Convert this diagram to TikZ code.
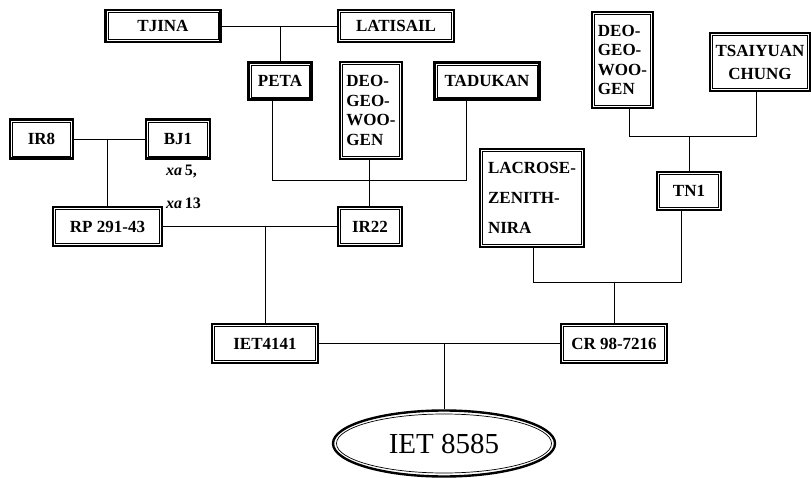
\documentclass[tikz,border=0pt]{standalone}
\usepackage{fontspec}
\setmainfont{Liberation Serif}
\usetikzlibrary{shapes.geometric}
\tikzset{
  box/.style={draw, line width=2.4pt, inner sep=0pt, align=center,
    font=\bfseries\fontsize{17}{19.5}\selectfont,
    path picture={\draw[line width=0.7pt]
      ([shift={(2.6pt,2.6pt)}]path picture bounding box.south west) rectangle
      ([shift={(-2.6pt,-2.6pt)}]path picture bounding box.north east);}},
  conn/.style={line width=0.9pt},
  lbl/.style={anchor=west, inner sep=0pt, font=\bfseries\fontsize{16}{18}\selectfont}
}
\begin{document}
\begin{tikzpicture}[x=1pt,y=-1pt]
\useasboundingbox (0,0) rectangle (811,478);
% nodes
\node[box, minimum width=115pt, minimum height=32pt] (tjina) at (163,26) {TJINA};
\node[box, minimum width=116pt, minimum height=32pt] (lat) at (396,26) {LATISAIL};
\node[box, minimum width=63pt, minimum height=37pt] (peta) at (280,81) {PETA};
\node[box, minimum width=62pt, minimum height=97pt, align=left] (deo1) at (371,110.5) {DEO-\\GEO-\\WOO-\\GEN};
\node[box, minimum width=105pt, minimum height=37pt] (tad) at (487,81) {TADUKAN};
\node[box, minimum width=63pt, minimum height=39pt] (ir8) at (41.5,139) {IR8};
\node[box, minimum width=64pt, minimum height=39pt] (bj1) at (178,139) {BJ1};
\node[lbl] (xa5) at (166,172) {\textit{xa}\,5,};
\node[lbl] (xa13) at (166,203) {\textit{xa}\,13};
\node[box, minimum width=109pt, minimum height=39pt] (rp) at (107.5,226.5) {RP 291-43};
\node[box, minimum width=64pt, minimum height=39pt] (ir22) at (370,226.5) {IR22};
\node[box, minimum width=106pt, minimum height=39pt] (iet) at (265,343.5) {IET4141};
\node[box, minimum width=106pt, minimum height=39pt] (cr) at (614,343.5) {CR 98-7216};
\node[box, minimum width=104pt, minimum height=98pt, align=left,
  font=\bfseries\fontsize{17}{30}\selectfont] (lac) at (532,198) {LACROSE-\\ZENITH-\\NIRA};
\node[box, minimum width=64pt, minimum height=38pt] (tn1) at (689,191) {TN1};
\node[box, minimum width=61pt, minimum height=96pt, align=left] (deo2) at (622.5,60) {DEO-\\GEO-\\WOO-\\GEN};
\node[box, minimum width=100pt, minimum height=58pt,
  font=\bfseries\fontsize{17}{23}\selectfont] (tsai) at (760,62) {TSAIYUAN\\CHUNG};
\node[ellipse, draw, line width=2.4pt, minimum width=222pt, minimum height=66pt,
  inner sep=0pt, font=\fontsize{29}{30}\selectfont] (ell) at (444,443.5) {IET 8585};
\draw[line width=0.7pt] (ell.center) ellipse (107.5pt and 29.5pt);
% connectors
\draw[conn] (tjina.east) -- (lat.west);
\draw[conn] (peta.north |- tjina.east) -- (peta.north);
\draw[conn] (272,0 |- peta.south) -- (272,180) -- (466,180) -- (466,0 |- tad.south);
\draw[conn] (369,0 |- deo1.south) -- (369,0 |- ir22.north);
\draw[conn] (ir8.east) -- (bj1.west);
\draw[conn] (107,139) -- (107,0 |- rp.north);
\draw[conn] (rp.east) -- (ir22.west);
\draw[conn] (iet.north |- rp.east) -- (iet.north);
\draw[conn] (iet.east) -- (cr.west);
\draw[conn] (ell.north |- iet.east) -- (ell.north);
\draw[conn] (533,0 |- lac.south) -- (533,282) -- (681,282) -- (681,0 |- tn1.south);
\draw[conn] (cr.north |- 0,282) -- (cr.north);
\draw[conn] (629,0 |- deo2.south) -- (629,136) -- (756,136) -- (756,0 |- tsai.south);
\draw[conn] (tn1.north |- 0,136) -- (tn1.north);
\end{tikzpicture}
\end{document}
